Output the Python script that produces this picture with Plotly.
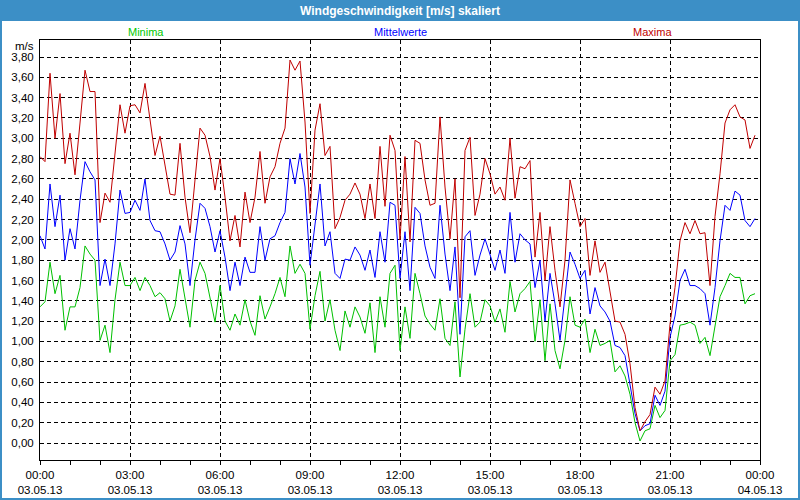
import plotly.graph_objects as go
import pandas as pd

# 10-minute samples over 03.05.13
times = pd.date_range("2013-05-03 00:00", periods=144, freq="10min")

maxima = [2.82, 2.77, 3.64, 3.00, 3.44, 2.75, 3.05, 2.64, 3.15, 3.67, 3.46, 3.46, 2.17, 2.46, 2.37, 2.85,
          3.33, 3.05, 3.32, 3.33, 3.25, 3.54, 3.18, 2.83, 3.02, 2.72, 2.45, 2.44, 2.95, 2.42, 2.07, 2.59,
          3.10, 3.03, 2.82, 2.49, 2.80, 2.42, 1.99, 2.24, 1.93, 2.47, 2.17, 2.42, 2.87, 2.36, 2.62, 2.72,
          2.95, 3.10, 3.77, 3.67, 3.76, 3.16, 2.26, 3.08, 3.34, 2.83, 2.92, 2.11, 2.22, 2.39, 2.45, 2.56,
          2.45, 2.21, 2.55, 2.21, 2.92, 2.33, 3.03, 2.88, 2.00, 2.82, 1.98, 2.98, 2.95, 2.59, 2.34, 2.36,
          3.21, 2.52, 2.01, 2.60, 1.43, 2.88, 3.01, 2.24, 2.45, 2.80, 2.65, 2.45, 2.52, 2.39, 3.00, 2.41,
          2.72, 2.70, 2.78, 1.83, 2.27, 1.60, 2.13, 1.70, 1.34, 1.80, 2.59, 2.36, 2.13, 2.21, 1.65, 1.99,
          1.68, 1.78, 1.47, 1.20, 1.19, 1.07, 0.78, 0.35, 0.12, 0.21, 0.28, 0.55, 0.48, 0.61, 1.17, 1.53,
          1.99, 2.17, 2.06, 2.19, 2.06, 2.07, 1.55, 2.23, 2.65, 3.15, 3.28, 3.33, 3.21, 3.18, 2.90, 3.03]

mittelwerte = [2.04, 1.91, 2.55, 2.13, 2.44, 1.80, 2.11, 1.91, 2.39, 2.77, 2.67, 2.59, 1.55, 1.81, 1.55, 1.96,
               2.49, 2.26, 2.27, 2.39, 2.29, 2.60, 2.19, 2.09, 2.08, 1.96, 1.80, 1.88, 2.14, 1.96, 1.55, 2.00,
               2.36, 2.31, 2.13, 1.88, 2.09, 1.83, 1.50, 1.78, 1.55, 1.83, 1.68, 1.68, 2.13, 1.80, 2.01, 2.04,
               2.17, 2.27, 2.80, 2.55, 2.85, 2.52, 1.75, 2.17, 2.55, 1.94, 2.08, 1.67, 1.62, 1.81, 1.80, 1.93,
               1.85, 1.70, 1.90, 1.63, 2.08, 1.78, 2.37, 2.34, 1.62, 2.08, 1.50, 2.32, 2.26, 1.94, 1.73, 1.62,
               2.34, 1.86, 1.50, 1.93, 1.07, 2.03, 2.09, 1.65, 1.85, 2.01, 1.86, 1.70, 1.90, 1.67, 2.27, 1.78,
               2.06, 2.00, 1.96, 1.53, 1.80, 1.20, 1.67, 1.37, 1.01, 1.44, 1.88, 1.76, 1.62, 1.70, 1.27, 1.53,
               1.35, 1.29, 1.20, 0.96, 0.94, 0.86, 0.58, 0.29, 0.12, 0.17, 0.19, 0.47, 0.37, 0.51, 1.04, 1.25,
               1.60, 1.71, 1.55, 1.55, 1.52, 1.47, 1.16, 1.53, 1.99, 2.34, 2.29, 2.48, 2.44, 2.19, 2.13, 2.21]

minima = [1.34, 1.39, 1.78, 1.47, 1.65, 1.11, 1.34, 1.34, 1.53, 1.94, 1.86, 1.80, 1.01, 1.16, 0.89, 1.41,
          1.78, 1.55, 1.55, 1.63, 1.50, 1.63, 1.55, 1.44, 1.48, 1.42, 1.20, 1.35, 1.71, 1.44, 1.14, 1.60,
          1.78, 1.67, 1.44, 1.19, 1.55, 1.20, 1.11, 1.27, 1.16, 1.41, 1.20, 1.06, 1.45, 1.22, 1.34, 1.47,
          1.63, 1.44, 1.94, 1.67, 1.76, 1.67, 1.12, 1.45, 1.69, 1.20, 1.41, 1.11, 0.91, 1.30, 1.14, 1.34,
          1.24, 1.08, 1.38, 0.89, 1.44, 1.14, 1.67, 1.75, 0.91, 1.34, 1.03, 1.67, 1.47, 1.25, 1.17, 1.11,
          1.42, 1.03, 0.96, 1.39, 0.65, 1.12, 1.47, 1.14, 1.19, 1.41, 1.35, 1.19, 1.32, 1.09, 1.59, 1.29,
          1.47, 1.52, 1.59, 1.00, 1.41, 0.81, 1.37, 0.91, 0.73, 1.01, 1.44, 1.16, 1.14, 1.22, 0.89, 1.12,
          0.96, 0.98, 1.01, 0.70, 0.76, 0.66, 0.48, 0.20, 0.02, 0.12, 0.14, 0.37, 0.25, 0.32, 0.81, 0.87,
          1.16, 1.17, 1.19, 1.16, 0.98, 1.04, 0.86, 1.17, 1.44, 1.55, 1.67, 1.63, 1.63, 1.37, 1.45, 1.47]

tick_times = pd.date_range("2013-05-03 00:00", "2013-05-04 00:00", freq="3h")
tick_labels = [t.strftime("%H:%M") + "<br>" + t.strftime("%d.%m.%y") for t in tick_times]

TITLE = "Windgeschwindigkeit [m/s] skaliert"
BLUE_BAR = "#3c8fc6"
C_MAX = "#c00000"
C_MID = "#0000ff"
C_MIN = "#00c000"
FONT = "Liberation Sans"

W, H = 800, 500
L, R, T, B = 40, 40, 40, 40
PW, PH = W - L - R, H - T - B

def px(x):
    return (x - L) / PW

def py(y):
    return (H - B - y) / PH

fig = go.Figure()
fig.add_trace(go.Scatter(x=times, y=minima, mode="lines", line=dict(color=C_MIN, width=1), name="Minima"))
fig.add_trace(go.Scatter(x=times, y=mittelwerte, mode="lines", line=dict(color=C_MID, width=1), name="Mittelwerte"))
fig.add_trace(go.Scatter(x=times, y=maxima, mode="lines", line=dict(color=C_MAX, width=1), name="Maxima"))

fig.update_layout(
    width=W, height=H,
    margin=dict(l=L, r=R, t=T, b=B, autoexpand=False),
    paper_bgcolor="white", plot_bgcolor="white",
    showlegend=False,
    separators=", ",
    font=dict(family=FONT, size=11, color="black"),
    xaxis=dict(
        type="date",
        range=[tick_times[0], tick_times[-1]],
        tickvals=list(tick_times), ticktext=tick_labels,
        ticks="outside", ticklen=4, tickcolor="black",
        minor=dict(dtick=3600000, ticks="outside", ticklen=4, tickcolor="black", showgrid=False),
        showgrid=True, gridcolor="black", griddash="4px,3px", gridwidth=1,
        showline=True, linecolor="black", linewidth=1, mirror=True,
        zeroline=False, fixedrange=True, automargin=False,
        tickfont=dict(family=FONT, size=11.5, color="black"),
    ),
    yaxis=dict(
        range=[-0.1674, 3.9674],
        tick0=0, dtick=0.2, tickformat=".2f",
        ticks="", ticklabelstandoff=3,
        showgrid=True, gridcolor="black", griddash="4px,3px", gridwidth=1,
        showline=True, linecolor="black", linewidth=1, mirror=True,
        zeroline=False, fixedrange=True, automargin=False,
        tickfont=dict(family=FONT, size=11.5, color="black"),
    ),
    shapes=[
        dict(type="rect", xref="paper", yref="paper",
             x0=px(0), x1=px(W), y0=py(21), y1=py(0),
             fillcolor=BLUE_BAR, line=dict(width=0), layer="above"),
        dict(type="rect", xref="paper", yref="paper",
             x0=px(1), x1=px(W - 1), y0=py(H - 1), y1=py(1),
             line=dict(color=BLUE_BAR, width=2), fillcolor="rgba(0,0,0,0)", layer="above"),
    ],
    annotations=[
        dict(text="<b>" + TITLE + "</b>", xref="paper", yref="paper", x=px(400), y=py(10.5),
             showarrow=False, xanchor="center", yanchor="middle",
             font=dict(family=FONT, size=12, color="white")),
        dict(text="Minima", xref="paper", yref="paper", x=px(146), y=py(32),
             showarrow=False, xanchor="center", yanchor="middle",
             font=dict(family=FONT, size=11, color="#00c800")),
        dict(text="Mittelwerte", xref="paper", yref="paper", x=px(400), y=py(32),
             showarrow=False, xanchor="center", yanchor="middle",
             font=dict(family=FONT, size=11, color="#0000ff")),
        dict(text="Maxima", xref="paper", yref="paper", x=px(652), y=py(32),
             showarrow=False, xanchor="center", yanchor="middle",
             font=dict(family=FONT, size=11, color=C_MAX)),
        dict(text="m/s", xref="paper", yref="paper", x=px(36), y=py(46),
             showarrow=False, xanchor="right", yanchor="middle",
             font=dict(family=FONT, size=11.5, color="black")),
    ],
)

fig.write_html("out.html", config={"displayModeBar": False},
               post_script="document.body.style.margin='0px';")
